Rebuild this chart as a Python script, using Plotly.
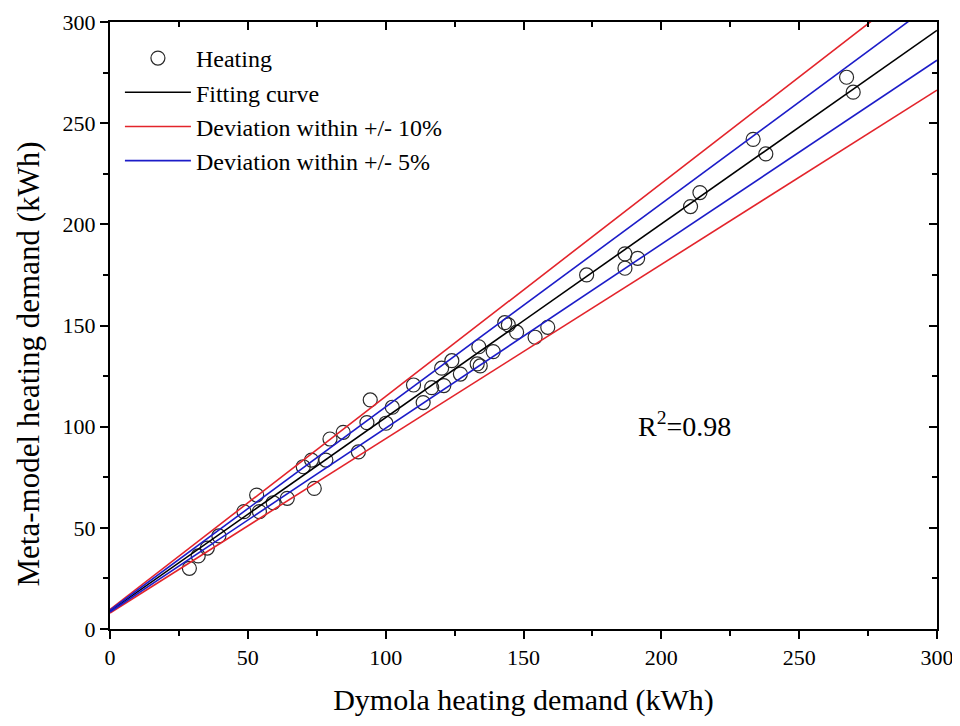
import plotly.graph_objects as go
import numpy as np

# Data
dymola = [28.8, 32.0, 35.3, 39.5, 48.6, 53.2, 54.2, 59.2, 64.3, 70.1, 73.1, 78.3, 74.1, 79.8, 84.6,
          90.1, 93.2, 94.4, 100.1, 102.4, 110.1, 113.6, 116.7, 121.1, 120.3, 124.0, 127.1, 133.8,
          133.2, 134.3, 139.0, 143.2, 144.5, 147.5, 154.2, 158.8,
          172.9, 186.8, 186.8, 191.4, 210.6, 214.0, 233.3, 237.9, 267.2, 269.6]
meta = [30.0, 36.1, 40.0, 46.0, 58.0, 66.2, 58.0, 62.4, 64.6, 80.2, 83.5, 83.5, 69.5, 93.9, 97.2,
        87.5, 102.0, 113.2, 101.7, 109.6, 120.6, 111.9, 119.3, 120.3, 128.9, 132.6, 126.0, 139.5,
        131.0, 130.0, 137.1, 151.4, 150.3, 146.7, 144.2, 149.1,
        175.0, 185.4, 178.3, 183.2, 208.8, 215.7, 242.0, 234.8, 272.7, 265.3]

fit_slope = 0.957
fit_intercept = 8.8
x_line = [0, 300]
deviation_10 = 0.10
deviation_5 = 0.05
r2_text = "R<sup>2</sup>=0.98"
r2_pos = (208.5, 101)
x_title = "Dymola heating demand (kWh)"
y_title = "Meta-model heating demand (kWh)"

xl = np.array(x_line, dtype=float)
fit = fit_intercept + fit_slope * xl

FONT = "Liberation Serif"
RED = "#e3242b"
BLUE = "#1c1cc8"

fig = go.Figure()
fig.add_trace(go.Scatter(x=dymola, y=meta, mode="markers", name="Heating",
                         marker=dict(symbol="circle-open", size=14, color="#2a2a2a",
                                     line=dict(width=1.2, color="#2a2a2a"))))
fig.add_trace(go.Scatter(x=xl, y=fit, mode="lines", name="Fitting curve",
                         line=dict(color="black", width=1.6)))
fig.add_trace(go.Scatter(x=xl, y=fit * (1 + deviation_10), mode="lines",
                         name="Deviation within +/- 10%", line=dict(color=RED, width=1.6),
                         legendgroup="r"))
fig.add_trace(go.Scatter(x=xl, y=fit * (1 - deviation_10), mode="lines", showlegend=False,
                         line=dict(color=RED, width=1.6), legendgroup="r"))
fig.add_trace(go.Scatter(x=xl, y=fit * (1 + deviation_5), mode="lines",
                         name="Deviation within +/- 5%", line=dict(color=BLUE, width=1.6),
                         legendgroup="b"))
fig.add_trace(go.Scatter(x=xl, y=fit * (1 - deviation_5), mode="lines", showlegend=False,
                         line=dict(color=BLUE, width=1.6), legendgroup="b"))
# invisible trace for mirrored axes
fig.add_trace(go.Scatter(x=[0], y=[0], xaxis="x2", yaxis="y2", mode="markers",
                         marker=dict(opacity=0), showlegend=False, hoverinfo="skip"))

common = dict(range=[0, 300], dtick=50, showgrid=False, zeroline=False, automargin=False,
              showline=True, linecolor="black", linewidth=2)

fig.update_layout(
    width=952, height=710,
    margin=dict(l=102, r=23, t=14, b=89),
    paper_bgcolor="white", plot_bgcolor="white",
    font=dict(family=FONT, color="black", size=22),
    xaxis=dict(**common, ticks="outside", ticklen=8, tickwidth=2, tickcolor="black",
               minor=dict(dtick=25, ticks="outside", ticklen=5, tickwidth=2, tickcolor="black"),
               tickfont=dict(size=22), ticklabeloverflow="allow",
               title=dict(text=x_title, font=dict(size=30), standoff=20)),
    yaxis=dict(**common, ticks="outside", ticklen=8, tickwidth=2, tickcolor="black",
               minor=dict(dtick=25, ticks="outside", ticklen=5, tickwidth=2, tickcolor="black"),
               tickfont=dict(size=22), ticklabeloverflow="allow"),
    xaxis2=dict(**common, overlaying="x", side="top", anchor="y", showticklabels=False,
                ticks="inside", ticklen=8, tickwidth=2, tickcolor="black",
                minor=dict(dtick=25, ticks="inside", ticklen=5, tickwidth=2, tickcolor="black")),
    yaxis2=dict(**common, overlaying="y", side="right", anchor="x", showticklabels=False,
                ticks="inside", ticklen=8, tickwidth=2, tickcolor="black",
                minor=dict(dtick=25, ticks="inside", ticklen=5, tickwidth=2, tickcolor="black")),
    legend=dict(x=0.012, y=0.977, xanchor="left", yanchor="top", bgcolor="rgba(0,0,0,0)",
                font=dict(size=24, family=FONT), itemwidth=66, tracegroupgap=0),
    showlegend=True,
)
fig.add_annotation(x=r2_pos[0], y=r2_pos[1], xref="x", yref="y", text=r2_text, showarrow=False,
                   font=dict(size=28, family=FONT), xanchor="center", yanchor="middle")
fig.add_annotation(x=-0.099, y=0.436, xref="paper", yref="paper", text=y_title, showarrow=False,
                   textangle=-90, font=dict(size=31, family=FONT),
                   xanchor="center", yanchor="middle")

fig.write_html("out.html")
